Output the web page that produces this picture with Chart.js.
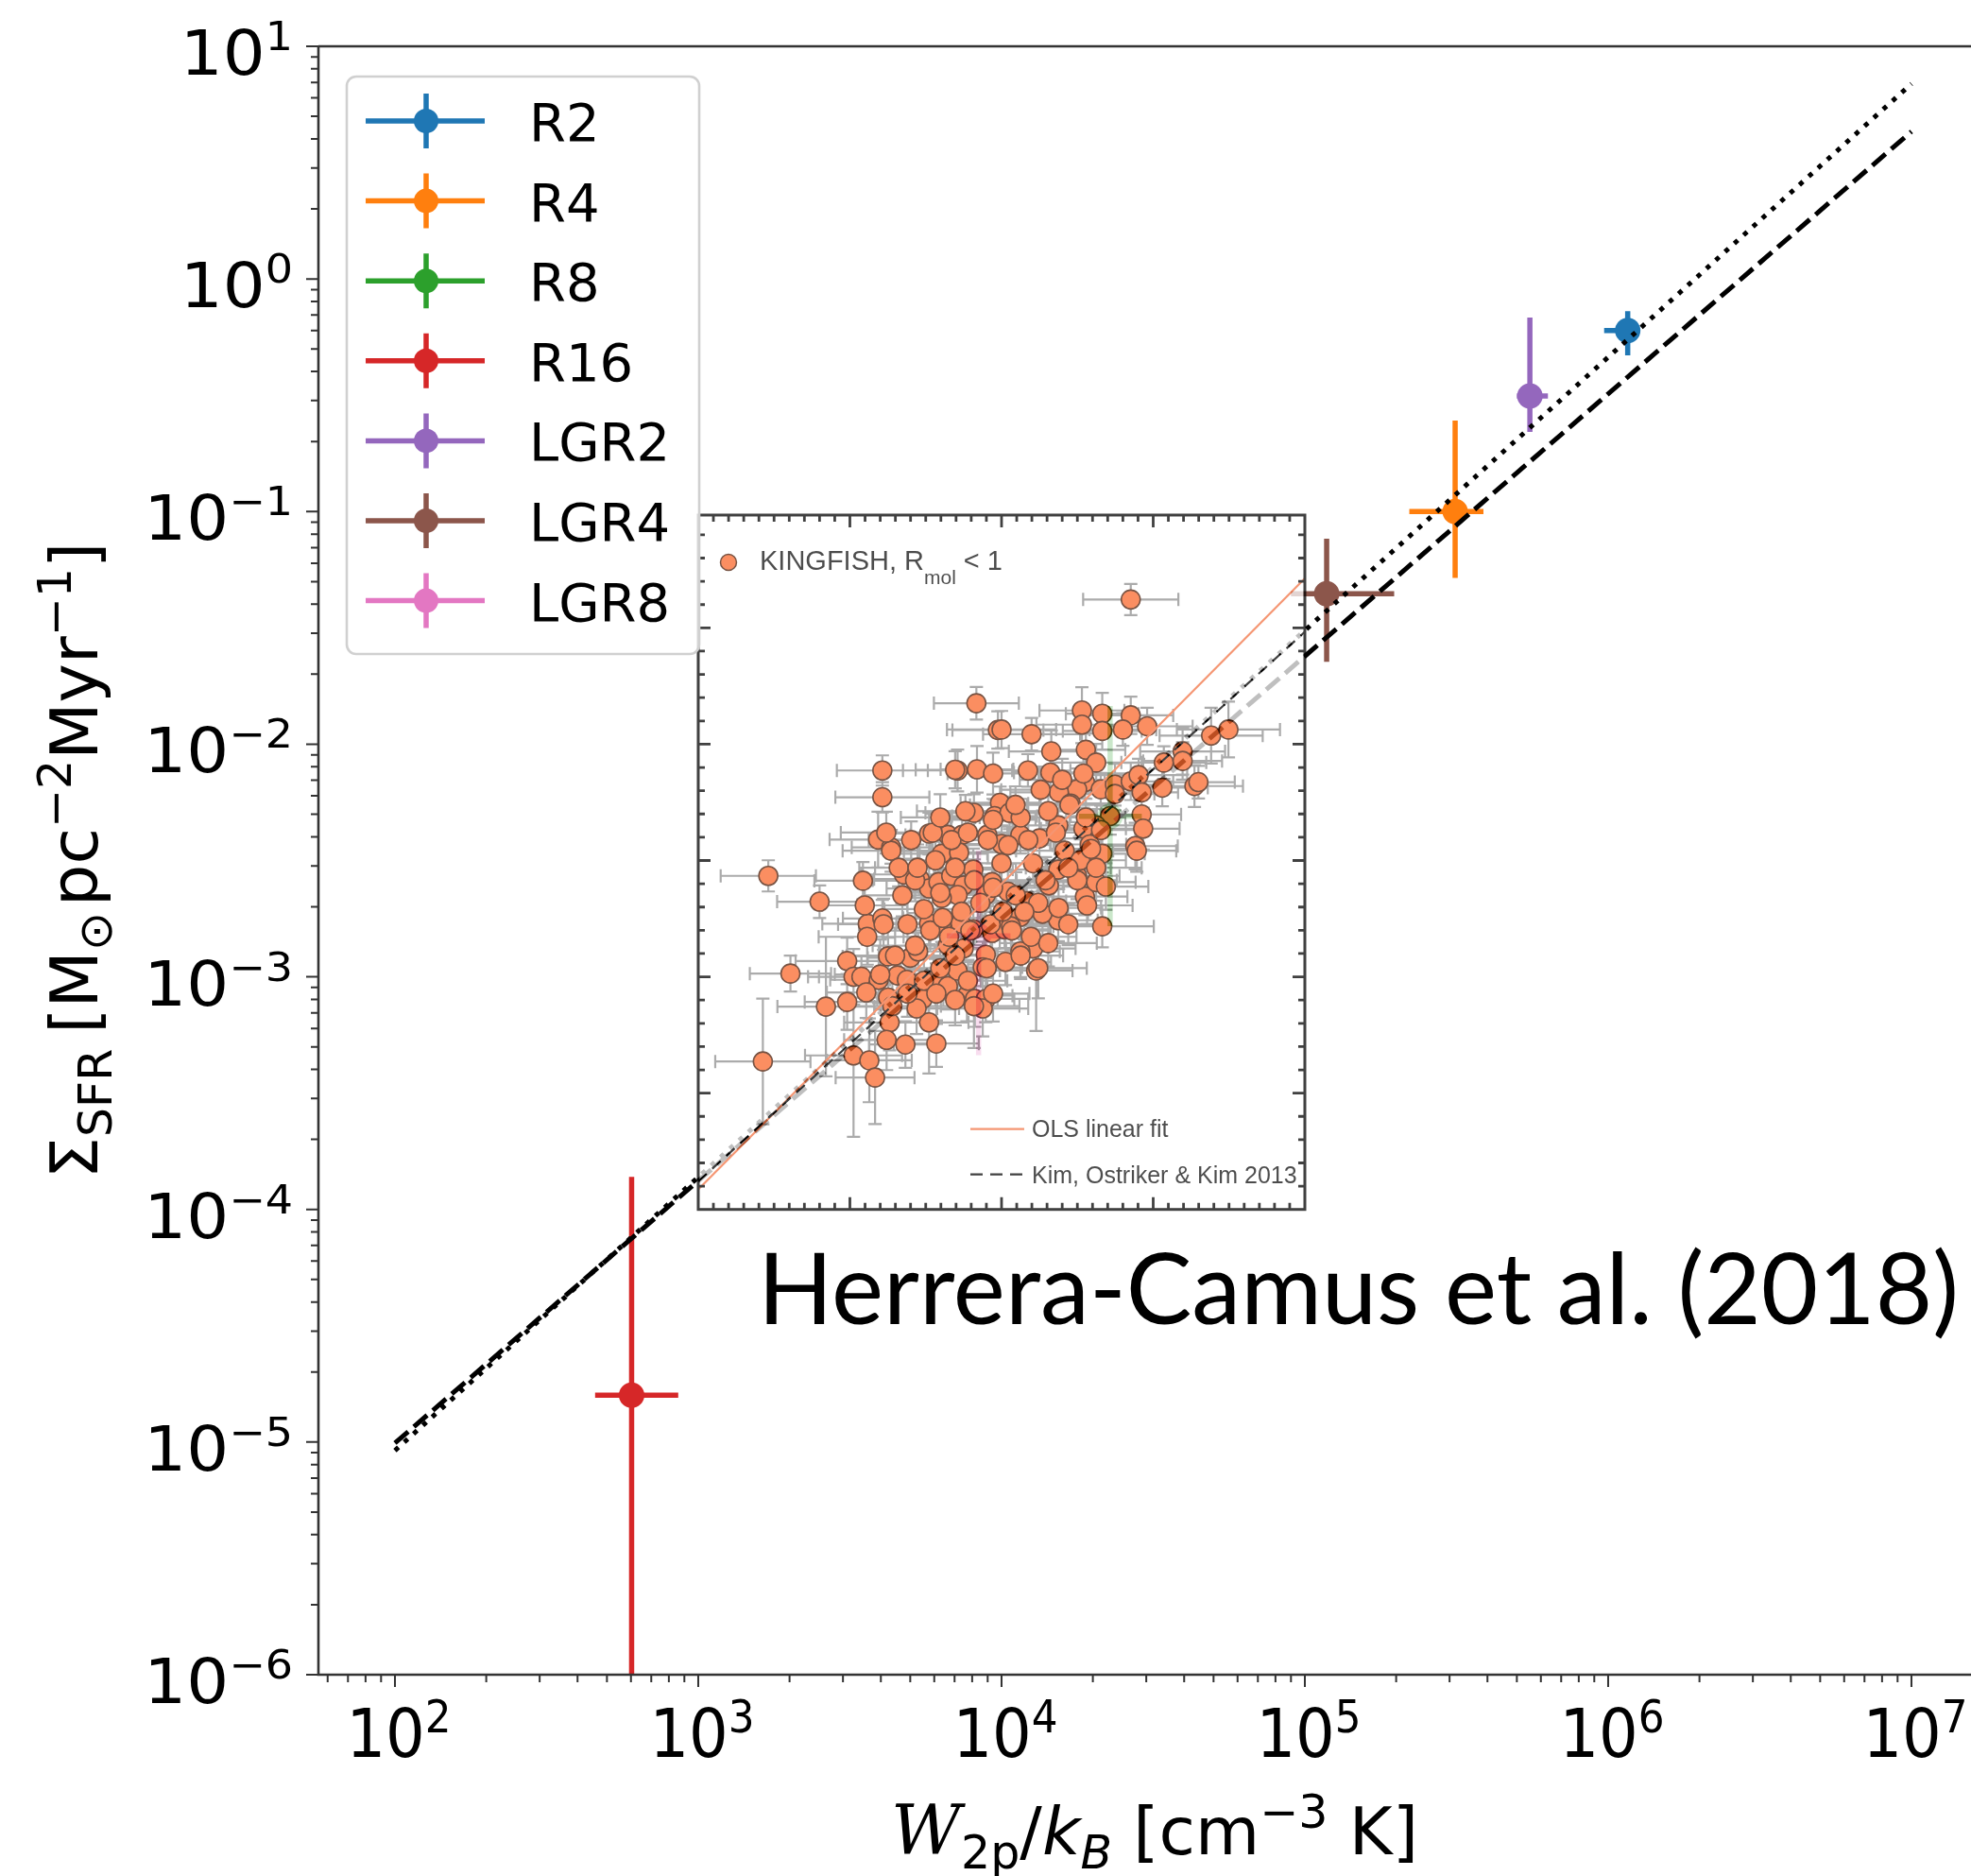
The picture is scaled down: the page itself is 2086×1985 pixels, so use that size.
<!DOCTYPE html>
<html>
<head>
<meta charset="utf-8">
<script src="https://cdn.jsdelivr.net/npm/chart.js"></script>
<style>
  html, body { margin: 0; padding: 0; background: #fff; overflow: hidden; }
  canvas { display: block; }
</style>
</head>
<body>
<canvas id="grafico" width="2086" height="1985"></canvas>
<script>
// simulation runs: pressure (x) and star formation rate surface density (y)
var runLabels = ['R2', 'R4', 'R8', 'R16', 'LGR2', 'LGR4', 'LGR8'];
var runColors = ['#1f77b4', '#ff7f0e', '#2ca02c', '#d62728', '#9467bd', '#8c564b', '#e377c2'];
var runP   = [1.16e6, 3.13e5, 2.28e4, 603, 5.52e5, 1.18e5, 8.4e3];
var runPLo = [9.7e5, 2.21e5, 1.8e4, 457, 5.0e5, 9.0e4, 6.6e3];
var runPHi = [1.27e6, 3.88e5, 2.9e4, 859, 6.33e5, 1.97e5, 1.07e4];
var runS   = [0.60, 0.100, 4.9e-3, 1.59e-5, 0.314, 0.0443, 1.5e-3];
var runSLo = [0.469, 0.0518, 1.65e-3, 1e-7, 0.220, 0.0226, 4.6e-4];
var runSHi = [0.726, 0.246, 0.0146, 1.38e-4, 0.682, 0.0764, 3.5e-3];

// power-law relations (straight lines in log-log)
var fitP = [1e2, 1e7];
var fitDotted = [9.2e-6, 6.9];
var fitDashed = [9.9e-6, 4.3];

// KINGFISH regions, log10 values and errors in dex
var kfLogP = [3.917,3.988,3.607,3.855,3.919,3.607,3.995,3.909,3.977,3.593,
  3.636,3.761,3.823,3.870,3.953,3.803,3.860,4.000,4.426,4.265,
  4.265,4.332,4.332,4.426,4.400,4.480,4.099,4.000,4.164,4.278,
  4.312,4.087,4.161,4.275,4.249,4.189,4.327,4.228,4.374,4.374,
  4.426,4.452,4.462,4.535,4.530,4.597,4.597,4.636,4.649,4.691,
  4.748,4.462,4.467,4.441,4.358,4.312,4.270,4.291,4.187,4.125,
  4.062,4.026,4.208,4.332,3.231,3.543,3.678,3.400,3.559,3.607,
  3.730,3.761,3.792,3.834,3.875,3.855,3.803,3.907,3.969,4.000,
  3.948,3.782,3.636,3.304,3.491,3.512,3.538,3.595,3.554,3.626,
  3.699,3.725,3.657,3.491,3.421,3.626,3.631,3.621,3.683,3.512,
  3.564,3.583,3.213,3.688,3.740,3.761,3.720,3.782,3.823,3.855,
  3.886,3.912,3.948,3.803,3.865,3.907,3.761,3.948,3.969,4.010,
  3.938,3.875,3.823,3.938,4.332,4.104,4.062,4.114,4.275,4.187,
  4.135,4.062,4.083,4.156,4.249,4.312,4.260,4.187,4.104,4.021,
  4.031,4.446,3.785,
  3.773,3.835,3.889,3.955,4.022,4.088,4.179,4.278,4.224,4.154,
  4.063,3.847,3.910,3.972,4.047,4.121,4.188,4.250,4.312,3.798,
  3.744,3.690,3.765,3.827,3.897,3.964,4.034,4.097,4.154,3.847,
  3.798,3.744,3.690,3.640,3.889,3.951,4.013,3.715,3.661,
  3.620,3.702,3.798,3.881,3.972,4.046,4.129,4.200,4.270,4.328,
  4.295,4.220,4.145,4.075,4.004,3.930,3.868,3.806,3.715,3.649,
  3.600,3.785,3.847,3.909,3.972,4.063,4.121,4.220,4.282,4.344,
  3.673,3.611,3.557,3.549,3.847,3.972,3.723];
var kfLogS = [-1.824,-1.939,-2.113,-2.113,-2.108,-2.228,-2.252,-2.295,-2.309,-2.410,
  -2.444,-2.384,-2.390,-2.390,-2.390,-2.471,-2.465,-2.429,-1.378,-1.855,
  -1.916,-1.869,-1.943,-1.876,-1.937,-1.923,-1.957,-1.937,-2.031,-2.024,
  -2.079,-2.113,-2.122,-2.163,-2.194,-2.207,-2.194,-2.255,-2.174,-2.214,
  -2.160,-2.133,-2.207,-2.079,-2.187,-2.031,-2.072,-2.180,-2.163,-1.963,
  -1.937,-2.302,-2.363,-2.438,-2.309,-2.349,-2.363,-2.431,-2.349,-2.405,
  -2.390,-2.295,-2.458,-2.471,-2.566,-2.587,-2.560,-2.677,-2.772,-2.749,
  -2.580,-2.620,-2.593,-2.566,-2.607,-2.648,-2.661,-2.539,-2.593,-2.512,
  -2.648,-2.499,-2.458,-2.986,-2.932,-3.000,-3.000,-3.013,-3.067,-2.912,
  -2.918,-2.891,-2.994,-3.108,-3.128,-3.089,-3.196,-3.271,-3.291,-3.338,
  -3.359,-3.433,-3.364,-3.013,-3.095,-3.196,-3.136,-3.013,-3.040,-2.973,
  -3.081,-3.095,-3.095,-2.770,-2.770,-2.796,-2.770,-2.905,-2.811,-2.796,
  -2.959,-2.878,-2.864,-3.136,-2.783,-2.878,-2.891,-2.973,-2.655,-2.757,
  -2.729,-2.742,-2.675,-2.607,-2.566,-2.593,-2.499,-2.539,-2.512,-2.634,
  -2.783,-2.458,-3.287,
  -2.380,-2.412,-2.380,-2.412,-2.434,-2.412,-2.380,-2.315,-2.261,-2.288,
  -2.315,-2.531,-2.585,-2.617,-2.650,-2.682,-2.704,-2.585,-2.531,-2.639,
  -2.709,-2.774,-2.801,-2.828,-2.801,-2.774,-2.801,-2.828,-2.855,-2.909,
  -2.963,-3.017,-3.072,-3.126,-3.017,-2.963,-2.936,-2.585,-2.531,
  -2.380,-2.412,-2.315,-2.288,-2.325,-2.261,-2.196,-2.153,-2.126,-2.369,
  -2.450,-2.531,-2.585,-2.720,-2.720,-2.682,-2.720,-2.747,-2.866,-2.909,
  -2.990,-3.072,-3.099,-3.126,-3.072,-2.909,-2.963,-2.774,-2.693,-2.612,
  -2.650,-2.774,-2.828,-2.693,-2.110,-2.126,-2.531];
var kfErrP = [0.14,0.15,0.15,0.18,0.12,0.155,0.13,0.16,0.14,0.16,
  0.13,0.15,0.14,0.17,0.12,0.15,0.13,0.16,0.157,0.14,
  0.15,0.12,0.13,0.14,0.11,0.15,0.16,0.18,0.14,0.13,
  0.15,0.14,0.12,0.15,0.13,0.16,0.12,0.14,0.15,0.13,
  0.14,0.16,0.12,0.14,0.15,0.14,0.13,0.16,0.12,0.17,
  0.17,0.13,0.12,0.14,0.13,0.15,0.14,0.12,0.15,0.14,
  0.13,0.15,0.16,0.14,0.157,0.16,0.14,0.14,0.15,0.13,
  0.15,0.14,0.13,0.16,0.14,0.12,0.15,0.13,0.14,0.15,
  0.13,0.14,0.16,0.134,0.17,0.15,0.14,0.16,0.13,0.15,
  0.14,0.13,0.15,0.14,0.16,0.13,0.15,0.14,0.12,0.16,
  0.14,0.13,0.157,0.14,0.15,0.13,0.14,0.15,0.13,0.14,
  0.15,0.13,0.14,0.15,0.13,0.14,0.16,0.13,0.14,0.15,
  0.13,0.14,0.12,0.15,0.17,0.14,0.13,0.12,0.14,0.13,
  0.15,0.14,0.13,0.15,0.14,0.13,0.15,0.14,0.13,0.15,
  0.14,0.13,0.14,
  0.14,0.15,0.13,0.16,0.14,0.12,0.15,0.13,0.14,0.16,
  0.15,0.13,0.14,0.15,0.12,0.16,0.14,0.13,0.15,0.14,
  0.13,0.16,0.14,0.15,0.13,0.14,0.12,0.15,0.16,0.14,
  0.13,0.15,0.14,0.16,0.13,0.14,0.15,0.14,0.13,
  0.15,0.14,0.13,0.16,0.14,0.15,0.13,0.14,0.16,0.15,
  0.12,0.14,0.15,0.13,0.16,0.14,0.15,0.13,0.14,0.16,
  0.15,0.13,0.14,0.15,0.12,0.14,0.16,0.13,0.15,0.14,
  0.13,0.15,0.16,0.14,0.13,0.15,0.14];
var kfErrS = [0.07,0.08,0.065,0.09,0.10,0.065,0.07,0.08,0.07,0.12,
  0.07,0.09,0.08,0.10,0.07,0.08,0.09,0.08,0.067,0.10,
  0.08,0.09,0.08,0.08,0.07,0.08,0.07,0.08,0.09,0.07,
  0.08,0.07,0.08,0.07,0.09,0.08,0.07,0.08,0.09,0.07,
  0.08,0.07,0.08,0.07,0.08,0.10,0.08,0.09,0.07,0.12,
  0.12,0.08,0.09,0.10,0.08,0.07,0.09,0.08,0.07,0.09,
  0.08,0.07,0.09,0.08,0.067,0.08,0.10,0.07,0.09,0.08,
  0.07,0.09,0.08,0.07,0.09,0.08,0.07,0.09,0.08,0.07,
  0.09,0.08,0.09,0.077,0.10,0.12,0.09,0.10,0.11,0.08,
  0.09,0.08,0.10,0.12,0.30,0.10,0.12,0.13,0.10,0.35,
  0.18,0.20,0.27,0.09,0.10,0.22,0.11,0.09,0.10,0.08,
  0.11,0.12,0.10,0.08,0.09,0.08,0.09,0.10,0.09,0.08,
  0.11,0.09,0.08,0.12,0.09,0.10,0.11,0.26,0.08,0.09,
  0.10,0.08,0.09,0.08,0.10,0.08,0.09,0.08,0.07,0.09,
  0.10,0.09,0.10,
  0.08,0.09,0.07,0.10,0.08,0.09,0.07,0.08,0.10,0.09,
  0.08,0.11,0.09,0.08,0.10,0.09,0.08,0.07,0.09,0.10,
  0.08,0.12,0.09,0.10,0.08,0.11,0.09,0.08,0.10,0.12,
  0.09,0.14,0.10,0.16,0.09,0.08,0.10,0.09,0.08,
  0.09,0.08,0.10,0.07,0.09,0.08,0.10,0.09,0.08,0.11,
  0.09,0.08,0.10,0.12,0.09,0.08,0.10,0.11,0.14,0.12,
  0.15,0.13,0.11,0.18,0.12,0.10,0.13,0.09,0.08,0.10,
  0.09,0.11,0.12,0.10,0.08,0.09,0.10];

// inset fits and extent
var olsP = [1e3, 1e5];
var olsS = [1.22e-4, 0.0516];
var kokP = [1e3, 1e5];
var kokS = [1.32e-4, 0.0304];
var insetP = [1e3, 1e5];
var insetS = [1e-4, 0.0966];

// axis ticks (powers of ten)
var xTickExp = [2, 3, 4, 5, 6, 7];
var yTickExp = [1, 0, -1, -2, -3, -4, -5, -6];

var SANS = '"DejaVu Sans", sans-serif';
var NOTE = 'Herrera-Camus et al. (2018)';

// draws pieces of text one after the other (for sub/superscripts)
function richText(ctx, x, y, parts, align, sx) {
  sx = sx || 1;
  var w = 0;
  parts.forEach(function (p) {
    ctx.font = p.f;
    p.w = ctx.measureText(p.t).width * sx + (p.gap || 0);
    w += p.w;
  });
  var cx = align === 'right' ? x - w : (align === 'center' ? x - w / 2 : x);
  ctx.textAlign = 'left';
  ctx.textBaseline = 'alphabetic';
  parts.forEach(function (p) {
    ctx.font = p.f;
    ctx.save();
    ctx.translate(cx + (p.gap || 0), y + (p.dy || 0));
    ctx.scale(sx, 1);
    ctx.fillText(p.t, 0, 0);
    ctx.restore();
    cx += p.w;
  });
}

var errorBars = {
  id: 'errorBars',
  beforeDatasetsDraw: function (chart) {
    var ctx = chart.ctx, a = chart.chartArea, x = chart.scales.x, y = chart.scales.y;
    ctx.save();
    ctx.beginPath();
    ctx.rect(a.left, a.top, a.right - a.left, a.bottom - a.top);
    ctx.clip();
    ctx.lineWidth = 5.5;
    for (var i = 0; i < runLabels.length; i++) {
      var px = x.getPixelForValue(runP[i]), py = y.getPixelForValue(runS[i]);
      ctx.strokeStyle = runColors[i];
      ctx.beginPath();
      ctx.moveTo(x.getPixelForValue(runPLo[i]), py);
      ctx.lineTo(x.getPixelForValue(runPHi[i]), py);
      ctx.moveTo(px, y.getPixelForValue(runSLo[i]));
      ctx.lineTo(px, y.getPixelForValue(runSHi[i]));
      ctx.stroke();
    }
    ctx.restore();
  }
};

// the KINGFISH panel is drawn on its own layer, then laid over the plot
var kingfishInset = {
  id: 'kingfishInset',
  afterDatasetsDraw: function (chart) {
    var ctx = chart.ctx, x = chart.scales.x, y = chart.scales.y;
    var X = function (v) { return x.getPixelForValue(v); };
    var Y = function (v) { return y.getPixelForValue(v); };
    var off = document.createElement('canvas');
    off.width = chart.width;
    off.height = chart.height;
    var g = off.getContext('2d');
    var L = X(insetP[0]), R = X(insetP[1]), T = Y(insetS[1]), B = Y(insetS[0]);

    g.fillStyle = '#fff';
    g.fillRect(L, T, R - L, B - T);
    g.save();
    g.beginPath();
    g.rect(L, T, R - L, B - T);
    g.clip();

    var i, cx, cy;
    g.strokeStyle = '#8f8f8f';
    g.lineWidth = 2.2;
    g.beginPath();
    for (i = 0; i < kfLogP.length; i++) {
      var p = kfLogP[i], s = kfLogS[i];
      cx = X(Math.pow(10, p));
      cy = Y(Math.pow(10, s));
      var x0 = X(Math.pow(10, p - kfErrP[i])), x1 = X(Math.pow(10, p + kfErrP[i]));
      var y0 = Y(Math.pow(10, s - kfErrS[i])), y1 = Y(Math.pow(10, s + kfErrS[i]));
      g.moveTo(x0, cy); g.lineTo(x1, cy);
      g.moveTo(x0, cy - 7); g.lineTo(x0, cy + 7);
      g.moveTo(x1, cy - 7); g.lineTo(x1, cy + 7);
      g.moveTo(cx, y0); g.lineTo(cx, y1);
      g.moveTo(cx - 7, y0); g.lineTo(cx + 7, y0);
      g.moveTo(cx - 7, y1); g.lineTo(cx + 7, y1);
    }
    g.stroke();

    g.fillStyle = 'rgb(250,105,45)';
    g.strokeStyle = '#4a1a05';
    g.lineWidth = 1.6;
    for (i = 0; i < kfLogP.length; i++) {
      cx = X(Math.pow(10, kfLogP[i]));
      cy = Y(Math.pow(10, kfLogS[i]));
      g.beginPath();
      g.arc(cx, cy, 10, 0, Math.PI * 2);
      g.fill();
      g.stroke();
    }

    g.lineWidth = 2.2;
    g.strokeStyle = 'rgb(242,115,68)';
    g.beginPath();
    g.moveTo(X(olsP[0]), Y(olsS[0]));
    g.lineTo(X(olsP[1]), Y(olsS[1]));
    g.stroke();
    g.strokeStyle = '#000';
    g.setLineDash([12, 8]);
    g.beginPath();
    g.moveTo(X(kokP[0]), Y(kokS[0]));
    g.lineTo(X(kokP[1]), Y(kokS[1]));
    g.stroke();
    g.setLineDash([]);
    g.restore();

    // inset legend
    g.fillStyle = 'rgb(250,105,45)';
    g.strokeStyle = '#4a1a05';
    g.lineWidth = 1.5;
    g.beginPath();
    g.arc(L + 32, T + 50, 8.5, 0, Math.PI * 2);
    g.fill();
    g.stroke();
    g.fillStyle = '#111';
    var lf = '29px "Liberation Sans", Arial, sans-serif';
    var sf = '21px "Liberation Sans", Arial, sans-serif';
    richText(g, L + 65, T + 58, [
      { t: 'KINGFISH, R', f: lf },
      { t: 'mol', f: sf, dy: 15 },
      { t: '< 1', f: lf, gap: 8 }
    ], 'left');
    var bf = '25px "Liberation Sans", Arial, sans-serif';
    g.lineWidth = 2.2;
    g.strokeStyle = 'rgb(242,115,68)';
    g.beginPath();
    g.moveTo(L + 288, B - 85); g.lineTo(L + 345, B - 85);
    g.stroke();
    g.strokeStyle = '#000';
    g.setLineDash([13, 8]);
    g.beginPath();
    g.moveTo(L + 288, B - 37); g.lineTo(L + 345, B - 37);
    g.stroke();
    g.setLineDash([]);
    g.font = bf;
    g.textAlign = 'left';
    g.fillText('OLS linear fit', L + 353, B - 77);
    g.fillText('Kim, Ostriker & Kim 2013', L + 353, B - 28);

    // frame with inward ticks
    g.strokeStyle = '#000';
    g.lineWidth = 3;
    g.strokeRect(L, T, R - L, B - T);
    g.lineWidth = 2.8;
    g.beginPath();
    var k, v, len, pos;
    for (k = 61; k < 100; k++) {
      v = k / 20;
      pos = X(Math.pow(10, v));
      len = (k % 10 === 0) ? 13 : 7;
      g.moveTo(pos, B); g.lineTo(pos, B - len);
      g.moveTo(pos, T); g.lineTo(pos, T + len);
    }
    for (k = -39; k <= -11; k++) {
      v = k / 10;
      pos = Y(Math.pow(10, v));
      len = (k % 5 === 0) ? 13 : 7;
      g.moveTo(L, pos); g.lineTo(L + len, pos);
      g.moveTo(R, pos); g.lineTo(R - len, pos);
    }
    g.stroke();

    ctx.save();
    ctx.globalAlpha = 0.75;
    ctx.drawImage(off, 0, 0);
    ctx.restore();
  }
};

var axesAndLegend = {
  id: 'axesAndLegend',
  afterDraw: function (chart) {
    var ctx = chart.ctx, a = chart.chartArea, x = chart.scales.x, y = chart.scales.y;
    ctx.save();

    // legend box
    var lx = 367, ly = 81, lw = 373, lh = 611, r = 10;
    ctx.fillStyle = 'rgba(255,255,255,0.8)';
    ctx.strokeStyle = '#d0d0d0';
    ctx.lineWidth = 2.6;
    ctx.beginPath();
    ctx.moveTo(lx + r, ly);
    ctx.arcTo(lx + lw, ly, lx + lw, ly + lh, r);
    ctx.arcTo(lx + lw, ly + lh, lx, ly + lh, r);
    ctx.arcTo(lx, ly + lh, lx, ly, r);
    ctx.arcTo(lx, ly, lx + lw, ly, r);
    ctx.closePath();
    ctx.fill();
    ctx.stroke();
    for (var i = 0; i < runLabels.length; i++) {
      var cy = 128 + i * 84.6;
      ctx.strokeStyle = runColors[i];
      ctx.lineWidth = 5.5;
      ctx.beginPath();
      ctx.moveTo(387, cy); ctx.lineTo(513, cy);
      ctx.moveTo(451, cy - 29); ctx.lineTo(451, cy + 29);
      ctx.stroke();
      ctx.fillStyle = runColors[i];
      ctx.beginPath();
      ctx.arc(451, cy, 13, 0, Math.PI * 2);
      ctx.fill();
      ctx.fillStyle = '#000';
      ctx.font = '56px ' + SANS;
      ctx.textAlign = 'left';
      ctx.textBaseline = 'alphabetic';
      ctx.fillText(runLabels[i], 560, cy + 21);
    }

    // spines
    ctx.strokeStyle = '#333';
    ctx.lineWidth = 2.6;
    ctx.beginPath();
    ctx.moveTo(a.left, a.top); ctx.lineTo(a.right + 5, a.top);
    ctx.moveTo(a.left, a.top); ctx.lineTo(a.left, a.bottom);
    ctx.lineTo(a.right + 5, a.bottom);
    ctx.stroke();

    // ticks
    ctx.lineWidth = 2;
    ctx.beginPath();
    var e, m, v, p;
    for (e = 1; e <= 7; e++) {
      for (m = 1; m <= 9; m++) {
        v = m * Math.pow(10, e);
        if (v < x.min || v > x.max) continue;
        p = x.getPixelForValue(v);
        ctx.moveTo(p, a.bottom); ctx.lineTo(p, a.bottom + (m === 1 ? 13 : 8));
      }
    }
    for (e = -6; e <= 1; e++) {
      for (m = 1; m <= 9; m++) {
        v = m * Math.pow(10, e);
        if (v < y.min * 0.999 || v > y.max * 1.001) continue;
        p = y.getPixelForValue(v);
        ctx.moveTo(a.left, p); ctx.lineTo(a.left - (m === 1 ? 13 : 8), p);
      }
    }
    ctx.stroke();

    // tick labels
    ctx.fillStyle = '#000';
    xTickExp.forEach(function (k) {
      var px = x.getPixelForValue(Math.pow(10, k));
      richText(ctx, px + 4, a.bottom + 87, [
        { t: '10', f: '72px ' + SANS },
        { t: String(k), f: '48px ' + SANS, dy: -26 }
      ], 'center', 0.91);
    });
    yTickExp.forEach(function (k) {
      var py = y.getPixelForValue(Math.pow(10, k));
      richText(ctx, a.left - 27, py + 30, [
        { t: '10', f: '66px ' + SANS },
        { t: (k < 0 ? '\u2212' + (-k) : String(k)), f: '43px ' + SANS, dy: -26 }
      ], 'right', 1.07);
    });

    // axis titles
    var F = '70px ' + SANS, S = '49px ' + SANS;
    richText(ctx, 1222, 1962, [
      { t: 'W', f: 'italic 72px "DejaVu Serif", serif' },
      { t: '2p', f: S, dy: 15 },
      { t: '/', f: F },
      { t: 'k', f: 'italic ' + F },
      { t: 'B', f: 'italic ' + S, dy: 15 },
      { t: ' [cm', f: F },
      { t: '\u22123', f: S, dy: -28 },
      { t: ' K]', f: F }
    ], 'center');

    ctx.save();
    ctx.translate(103, (a.top + a.bottom) / 2);
    ctx.rotate(-Math.PI / 2);
    richText(ctx, 0, 0, [
      { t: '\u03a3', f: F },
      { t: 'SFR', f: S, dy: 15 },
      { t: '[M', f: F, gap: 16 },
      { t: '\u2299', f: S, dy: 15 },
      { t: 'pc', f: F, gap: 6 },
      { t: '\u22122', f: S, dy: -28 },
      { t: 'Myr', f: F },
      { t: '\u22121', f: S, dy: -28 },
      { t: ']', f: F }
    ], 'center');
    ctx.restore();

    // reference note
    ctx.font = '100px Lato, "Open Sans", sans-serif';
    var size = 100 * 1271 / ctx.measureText(NOTE).width;
    ctx.font = size.toFixed(1) + 'px Lato, "Open Sans", sans-serif';
    ctx.textAlign = 'left';
    ctx.fillText(NOTE, 802, 1401);

    ctx.restore();
  }
};

var ctx = document.getElementById('grafico').getContext('2d');

var datasets = [
  {
    type: 'line',
    label: 'dotted',
    data: fitP.map(function (v, i) { return { x: v, y: fitDotted[i] }; }),
    borderColor: '#000',
    borderWidth: 5,
    borderDash: [5, 8.25],
    pointRadius: 0,
    fill: false,
    order: 0
  },
  {
    type: 'line',
    label: 'dashed',
    data: fitP.map(function (v, i) { return { x: v, y: fitDashed[i] }; }),
    borderColor: '#000',
    borderWidth: 5,
    borderDash: [18.5, 8],
    pointRadius: 0,
    fill: false,
    order: 0
  }
];
runLabels.forEach(function (lab, i) {
  datasets.push({
    label: lab,
    data: [{ x: runP[i], y: runS[i] }],
    backgroundColor: runColors[i],
    borderColor: runColors[i],
    pointRadius: 13.5,
    pointBorderWidth: 0,
    order: 1
  });
});

var chart = new Chart(ctx, {
  type: 'scatter',
  data: { datasets: datasets },
  options: {
    responsive: false,
    devicePixelRatio: 1,
    animation: false,
    events: [],
    layout: { autoPadding: false, padding: { left: 337, top: 49, right: 0, bottom: 213 } },
    plugins: { legend: { display: false }, tooltip: { enabled: false } },
    scales: {
      x: { type: 'logarithmic', min: Math.pow(10, 1.7477), max: Math.pow(10, 7.1963), bounds: 'data', display: false },
      y: { type: 'logarithmic', min: 1e-6, max: 10, bounds: 'data', display: false }
    }
  },
  plugins: [errorBars, kingfishInset, axesAndLegend]
});
</script>
</body>
</html>
